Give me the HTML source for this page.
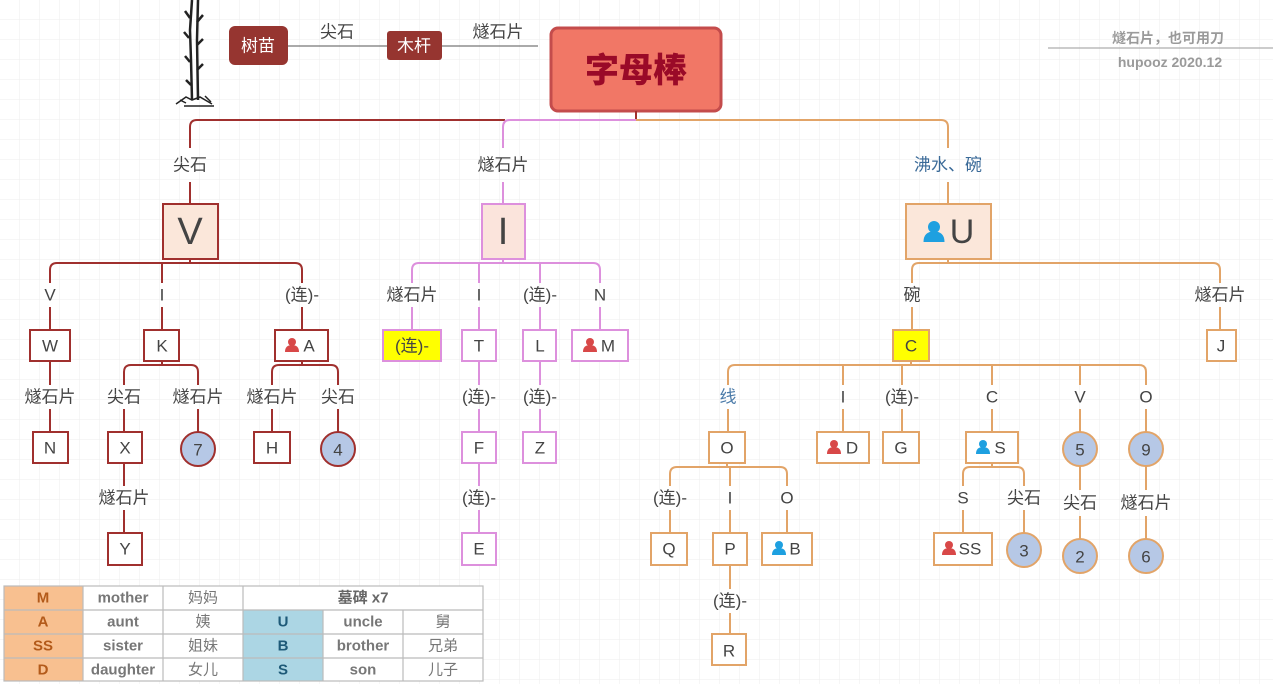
<!DOCTYPE html>
<html><head><meta charset="utf-8">
<style>
html,body{margin:0;padding:0;background:#fff;}
svg{display:block;font-family:"Liberation Sans","Noto Sans CJK SC",sans-serif;}
.t{font-size:17px;fill:#444;text-anchor:middle;dominant-baseline:central;}
.r{stroke:#a0302e;} .p{stroke:#dd90dd;} .o{stroke:#e2a468;}
.ln{fill:none;stroke-width:2;}
.bx{stroke-width:2;fill:#fff;}
.tb{font-size:15px;font-weight:bold;text-anchor:middle;dominant-baseline:central;}
.tc{font-size:15px;font-weight:normal;text-anchor:middle;dominant-baseline:central;fill:#777;}
</style></head><body>
<svg width="1273" height="684" viewBox="0 0 1273 684" xmlns="http://www.w3.org/2000/svg">
<defs>
<pattern id="g" width="20" height="20" patternUnits="userSpaceOnUse"><path d="M20 0V20H0" fill="none" stroke="#eee" stroke-width="1"/></pattern>
<g id="pr"><circle cx="0" cy="-4" r="4" fill="#d84848"/><path d="M-7 6 Q-7 -1 0 -1 Q7 -1 7 6Z" fill="#d84848"/></g>
<g id="pb"><circle cx="0" cy="-4" r="4" fill="#1ea0e0"/><path d="M-7 6 Q-7 -1 0 -1 Q7 -1 7 6Z" fill="#1ea0e0"/></g>
</defs>
<rect width="1273" height="684" fill="url(#g)"/>

<!-- tree -->
<g stroke="#222" fill="none" stroke-width="2.5">
<path d="M192 0 L190 30 L191 60 L192 100 M198 0 L197 40 L198 100"/>
<path d="M190 18 l-5 -7 M197 22 l6 -7 M189 38 l-5 -6 M197 45 l6 -6 M190 62 l-5 -6 M197 70 l6 -6 M191 85 l-5 -5"/>
<path d="M176 104 l10 -7 l6 3 l8 -3 l12 7 M180 100 l6 3 M205 96 l6 6 M184 106 h30" stroke-width="1.5"/>
</g>
<!-- top chain -->
<line x1="288" y1="46" x2="538" y2="46" stroke="#555" stroke-width="1"/>
<rect x="229" y="26" width="59" height="39" rx="6" fill="#963530"/>
<text class="t" x="258" y="46" style="fill:#fff">树苗</text>
<rect x="387" y="31" width="55" height="29" rx="3" fill="#963530"/>
<text class="t" x="414" y="46" style="fill:#fff">木杆</text>
<text class="t" x="337" y="32">尖石</text>
<text class="t" x="498" y="32">燧石片</text>

<!-- root -->
<rect x="551" y="28" width="170" height="83" rx="7" fill="#f17766" stroke="#c44c4c" stroke-width="3"/>
<text class="t" x="636" y="71" style="fill:#9a0a28;font-size:34px;font-weight:900">字母棒</text>

<!-- top right -->
<text class="t" x="1168" y="38" style="fill:#9a9a9a;font-size:14px;font-weight:bold">燧石片，也可用刀</text>
<line x1="1048" y1="48" x2="1273" y2="48" stroke="#999" stroke-width="1"/>
<text class="t" x="1170" y="62" style="fill:#9a9a9a;font-size:14px;font-weight:bold">hupooz 2020.12</text>

<!-- level1 connectors -->
<line x1="636" y1="111" x2="636" y2="120" class="ln r"/>
<path d="M190 148 V127 Q190 120 197 120 H505" class="ln r"/>
<path d="M503 148 V127 Q503 120 510 120 H636" class="ln p"/>
<path d="M636 120 H941 Q948 120 948 127 V148" class="ln o"/>
<text class="t" x="190" y="165">尖石</text>
<text class="t" x="503" y="165">燧石片</text>
<text class="t" x="948" y="165" style="fill:#3a6a98">沸水、碗</text>
<line x1="190" y1="182" x2="190" y2="204" class="ln r"/>
<line x1="503" y1="182" x2="503" y2="204" class="ln p"/>
<line x1="948" y1="182" x2="948" y2="204" class="ln o"/>

<rect x="163" y="204" width="55" height="55" fill="#fbe7da" class="r" stroke-width="2"/>
<text class="t" x="190" y="232" style="font-size:38px">V</text>
<rect x="482" y="204" width="43" height="55" fill="#fbe4dc" class="p" stroke-width="2"/>
<text class="t" x="503" y="232" style="font-size:38px">I</text>
<rect x="906" y="204" width="85" height="55" fill="#fbe7da" class="o" stroke-width="2"/>
<use href="#pb" transform="translate(934,233) scale(1.5)"/>
<text class="t" x="962" y="232" style="font-size:34px">U</text>

<!-- V subtree -->
<path d="M190 259V263 M50 283V270Q50 263 57 263H295Q302 263 302 270V283 M162 263V283" class="ln r"/>
<text class="t" x="50" y="295">V</text><text class="t" x="162" y="295">I</text><text class="t" x="302" y="295">(连)-</text>
<path d="M50 307V330 M162 307V330 M302 307V330" class="ln r"/>
<rect x="30" y="330" width="40" height="31" class="bx r"/><text class="t" x="50" y="346">W</text>
<rect x="144" y="330" width="35" height="31" class="bx r"/><text class="t" x="162" y="346">K</text>
<rect x="275" y="330" width="53" height="31" class="bx r"/><use href="#pr" transform="translate(292,346)"/><text class="t" x="309" y="346">A</text>
<path d="M50 361V385 M50 409V432" class="ln r"/>
<text class="t" x="50" y="397">燧石片</text>
<rect x="33" y="432" width="35" height="31" class="bx r"/><text class="t" x="50" y="448">N</text>
<path d="M162 361V365 M124 385V372Q124 365 131 365H191Q198 365 198 372V385" class="ln r"/>
<text class="t" x="124" y="397">尖石</text><text class="t" x="198" y="397">燧石片</text>
<path d="M124 409V432 M198 409V432" class="ln r"/>
<rect x="108" y="432" width="34" height="31" class="bx r"/><text class="t" x="125" y="448">X</text>
<circle cx="198" cy="449" r="17" fill="#b6c8e6" class="r" stroke-width="2"/><text class="t" x="198" y="450">7</text>
<path d="M124 463V486 M124 510V533" class="ln r"/>
<text class="t" x="124" y="498">燧石片</text>
<rect x="108" y="533" width="34" height="32" class="bx r"/><text class="t" x="125" y="549">Y</text>
<path d="M302 361V365 M272 385V372Q272 365 279 365H331Q338 365 338 372V385" class="ln r"/>
<text class="t" x="272" y="397">燧石片</text><text class="t" x="338" y="397">尖石</text>
<path d="M272 409V432 M338 409V432" class="ln r"/>
<rect x="254" y="432" width="36" height="31" class="bx r"/><text class="t" x="272" y="448">H</text>
<circle cx="338" cy="449" r="17" fill="#b6c8e6" class="r" stroke-width="2"/><text class="t" x="338" y="450">4</text>

<!-- I subtree -->
<path d="M503 259V263 M412 283V270Q412 263 419 263H593Q600 263 600 270V283 M479 263V283 M540 263V283" class="ln p"/>
<text class="t" x="412" y="295">燧石片</text><text class="t" x="479" y="295">I</text><text class="t" x="540" y="295">(连)-</text><text class="t" x="600" y="295">N</text>
<path d="M412 307V330 M479 307V330 M540 307V330 M600 307V330" class="ln p"/>
<rect x="383" y="330" width="58" height="31" fill="#ffff00" class="p" stroke-width="2"/><text class="t" x="412" y="346">(连)-</text>
<rect x="462" y="330" width="34" height="31" class="bx p"/><text class="t" x="479" y="346">T</text>
<rect x="523" y="330" width="33" height="31" class="bx p"/><text class="t" x="540" y="346">L</text>
<rect x="572" y="330" width="56" height="31" class="bx p"/><use href="#pr" transform="translate(590,346)"/><text class="t" x="608" y="346">M</text>
<path d="M479 361V385 M479 409V432 M479 463V486 M479 510V533 M540 361V385 M540 409V432" class="ln p"/>
<text class="t" x="479" y="397">(连)-</text><text class="t" x="540" y="397">(连)-</text><text class="t" x="479" y="498">(连)-</text>
<rect x="462" y="432" width="34" height="31" class="bx p"/><text class="t" x="479" y="448">F</text>
<rect x="523" y="432" width="33" height="31" class="bx p"/><text class="t" x="540" y="448">Z</text>
<rect x="462" y="533" width="34" height="32" class="bx p"/><text class="t" x="479" y="549">E</text>

<!-- U subtree -->
<path d="M948 259V263 M912 283V270Q912 263 919 263H1213Q1220 263 1220 270V283" class="ln o"/>
<text class="t" x="912" y="295">碗</text><text class="t" x="1220" y="295">燧石片</text>
<path d="M912 307V330 M1220 307V330" class="ln o"/>
<rect x="893" y="330" width="36" height="31" fill="#ffff00" class="o" stroke-width="2"/><text class="t" x="911" y="346">C</text>
<rect x="1207" y="330" width="29" height="31" class="bx o"/><text class="t" x="1221" y="346">J</text>
<path d="M911 361V365 M728 385V372Q728 365 735 365H1139Q1146 365 1146 372V385 M843 365V385 M902 365V385 M992 365V385 M1080 365V385" class="ln o"/>
<text class="t" x="728" y="397" style="fill:#4a7aa8">线</text><text class="t" x="843" y="397">I</text><text class="t" x="902" y="397">(连)-</text><text class="t" x="992" y="397">C</text><text class="t" x="1080" y="397">V</text><text class="t" x="1146" y="397">O</text>
<path d="M728 409V432 M843 409V432 M902 409V432 M992 409V432 M1080 409V432 M1146 409V432" class="ln o"/>
<rect x="709" y="432" width="36" height="31" class="bx o"/><text class="t" x="727" y="448">O</text>
<rect x="817" y="432" width="52" height="31" class="bx o"/><use href="#pr" transform="translate(834,448)"/><text class="t" x="852" y="448">D</text>
<rect x="883" y="432" width="36" height="31" class="bx o"/><text class="t" x="901" y="448">G</text>
<rect x="966" y="432" width="52" height="31" class="bx o"/><use href="#pb" transform="translate(983,448)"/><text class="t" x="1000" y="448">S</text>
<circle cx="1080" cy="449" r="17" fill="#b6c8e6" class="o" stroke-width="2"/><text class="t" x="1080" y="450">5</text>
<circle cx="1146" cy="449" r="17" fill="#b6c8e6" class="o" stroke-width="2"/><text class="t" x="1146" y="450">9</text>
<path d="M1080 466V490 M1080 516V539 M1146 466V490 M1146 516V539" class="ln o"/>
<text class="t" x="1080" y="503">尖石</text><text class="t" x="1146" y="503">燧石片</text>
<circle cx="1080" cy="556" r="17" fill="#b6c8e6" class="o" stroke-width="2"/><text class="t" x="1080" y="557">2</text>
<circle cx="1146" cy="556" r="17" fill="#b6c8e6" class="o" stroke-width="2"/><text class="t" x="1146" y="557">6</text>
<!-- O sub -->
<path d="M727 463V467 M670 486V474Q670 467 677 467H780Q787 467 787 474V486 M730 467V486" class="ln o"/>
<text class="t" x="670" y="498">(连)-</text><text class="t" x="730" y="498">I</text><text class="t" x="787" y="498">O</text>
<path d="M670 510V533 M730 510V533 M787 510V533" class="ln o"/>
<rect x="651" y="533" width="36" height="32" class="bx o"/><text class="t" x="669" y="549">Q</text>
<rect x="713" y="533" width="34" height="32" class="bx o"/><text class="t" x="730" y="549">P</text>
<rect x="762" y="533" width="50" height="32" class="bx o"/><use href="#pb" transform="translate(779,549)"/><text class="t" x="795" y="549">B</text>
<path d="M730 565V589 M730 613V634" class="ln o"/>
<text class="t" x="730" y="601">(连)-</text>
<rect x="712" y="634" width="34" height="31" class="bx o"/><text class="t" x="729" y="651">R</text>
<!-- S sub -->
<path d="M992 463V467 M963 486V474Q963 467 970 467H1017Q1024 467 1024 474V486" class="ln o"/>
<text class="t" x="963" y="498">S</text><text class="t" x="1024" y="498">尖石</text>
<path d="M963 510V533 M1024 510V533" class="ln o"/>
<rect x="934" y="533" width="58" height="32" class="bx o"/><use href="#pr" transform="translate(949,549)"/><text class="t" x="970" y="549">SS</text>
<circle cx="1024" cy="550" r="17" fill="#b6c8e6" class="o" stroke-width="2"/><text class="t" x="1024" y="551">3</text>

<!-- table -->
<rect x="4" y="586" width="79" height="95" fill="#f8c090"/>
<rect x="243" y="610" width="80" height="71" fill="#acd6e4"/>
<rect x="83" y="586" width="160" height="95" fill="#fff"/>
<rect x="323" y="610" width="160" height="71" fill="#fff"/>
<rect x="243" y="586" width="240" height="24" fill="#fff"/>
<g stroke="#bbb" stroke-width="1.2" fill="none">
<rect x="4" y="586" width="479" height="95"/>
<path d="M4 610H483M4 634H483M4 658H483M83 586V681M163 586V681M243 586V681M323 610V681M403 610V681"/>
</g>
<text class="tb" x="43" y="598" fill="#b35a1a">M</text>
<text class="tb" x="43" y="622" fill="#b35a1a">A</text>
<text class="tb" x="43" y="646" fill="#b35a1a">SS</text>
<text class="tb" x="43" y="670" fill="#b35a1a">D</text>
<text class="tb" x="123" y="598" fill="#777">mother</text>
<text class="tb" x="123" y="622" fill="#777">aunt</text>
<text class="tb" x="123" y="646" fill="#777">sister</text>
<text class="tb" x="123" y="670" fill="#777">daughter</text>
<text class="tc" x="203" y="598">妈妈</text>
<text class="tc" x="203" y="622">姨</text>
<text class="tc" x="203" y="646">姐妹</text>
<text class="tc" x="203" y="670">女儿</text>
<text class="tb" x="363" y="598" fill="#666">墓碑 x7</text>
<text class="tb" x="283" y="622" fill="#1e5a78">U</text>
<text class="tb" x="283" y="646" fill="#1e5a78">B</text>
<text class="tb" x="283" y="670" fill="#1e5a78">S</text>
<text class="tb" x="363" y="622" fill="#777">uncle</text>
<text class="tb" x="363" y="646" fill="#777">brother</text>
<text class="tb" x="363" y="670" fill="#777">son</text>
<text class="tc" x="443" y="622">舅</text>
<text class="tc" x="443" y="646">兄弟</text>
<text class="tc" x="443" y="670">儿子</text>
</svg>
</body></html>
